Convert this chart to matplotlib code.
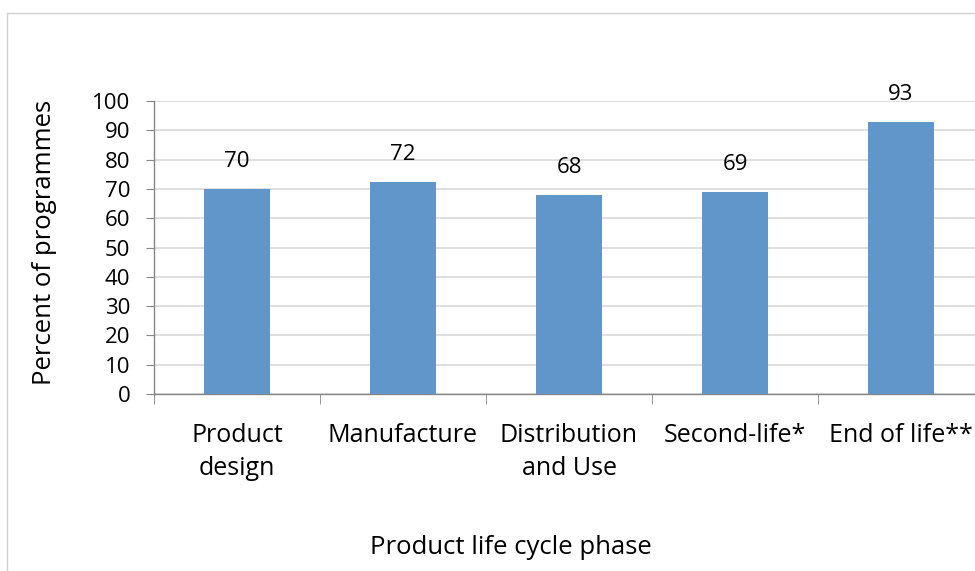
import numpy as np
import matplotlib
matplotlib.use('Agg')
import matplotlib.pyplot as plt
from matplotlib.patches import Rectangle

plt.rcParams['font.family'] = ['Open Sans', 'DejaVu Sans']

# data
phases = ['Product\ndesign', 'Manufacture', 'Distribution\nand Use', 'Second-life*', 'End of life**']
percent = [70, 72.4, 68, 69, 93]
yticks = list(range(0, 101, 10))

bar_col = '#6096C9'
grid_col = '#D9D9D9'
axis_col = '#868686'

fig = plt.figure(figsize=(9.75, 5.71), dpi=100)
fig.patch.set_facecolor('white')
# outer chart border (runs off the right/bottom of the picture)
fig.patches.append(Rectangle((7/975, -0.01), 1.0, 1 - 13/571 + 0.01,
                             transform=fig.transFigure, fill=False,
                             edgecolor='#D0D0D0', lw=1.0, zorder=0))

ax = fig.add_axes([154/975, 1 - 394/571, 830/975, 293/571])
x = np.arange(len(phases))
ax.bar(x, percent, width=0.4, color=bar_col, zorder=3)

for xi, v in zip(x, percent):
    ax.text(xi, v + 9.3, '%.0f' % v, ha='center', va='center', fontsize=16)

ax.set_xlim(-0.5, len(phases) - 0.5)
ax.set_ylim(0, 100)
ax.set_yticks(yticks)
ax.tick_params(axis='y', labelsize=16, length=6, color=axis_col, direction='out', pad=11)
ax.yaxis.grid(True, color=grid_col, lw=1.2, zorder=0)

ax.set_xticks(x)
ax.set_xticklabels(phases, fontsize=18, linespacing=1.4)
ax.tick_params(axis='x', length=0, pad=21)
ax.set_xticks(np.arange(-0.5, len(phases)), minor=True)
ax.tick_params(axis='x', which='minor', length=7, color=axis_col, direction='out')

for s in ['top', 'right']:
    ax.spines[s].set_visible(False)
for s in ['left', 'bottom']:
    ax.spines[s].set_color(axis_col)
    ax.spines[s].set_linewidth(1.0)

fig.text(45/975, 1 - 242/571, 'Percent of programmes', rotation=90,
         ha='center', va='center', fontsize=18.5)
fig.text(511/975, 1 - 548/571, 'Product life cycle phase',
         ha='center', va='center', fontsize=18.5)

fig.savefig('out.png', dpi=100)
